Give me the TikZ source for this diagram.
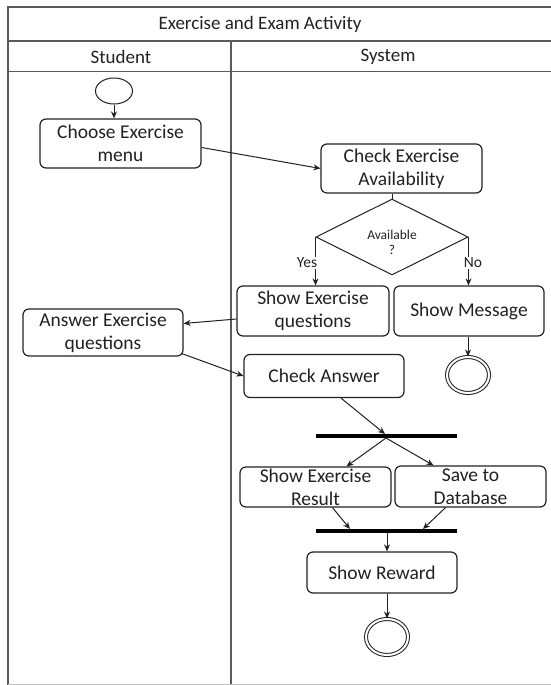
\documentclass[tikz,border=0pt]{standalone}
\usepackage{fontspec}
\setmainfont{Carlito}
\usetikzlibrary{shapes.geometric,arrows.meta,calc}
\definecolor{ink}{HTML}{222222}
\definecolor{framec}{HTML}{5A5A5A}
\tikzset{
  box/.style={draw=ink, line width=1.2pt, rounded corners=6pt, inner sep=0pt, align=center,
    text=ink, font=\fontsize{19.5}{23}\selectfont},
  arr/.style={draw=ink, line width=1pt, -{Stealth[length=7pt,width=6pt]}},
  plain/.style={draw=ink, line width=1pt},
  bar/.style={draw=black, line width=4pt},
  frameline/.style={draw=framec, line width=1.6pt},
  lbl/.style={text=ink, font=\fontsize{15.5}{17}\selectfont, inner sep=1pt},
  hdr/.style={text=ink, font=\fontsize{19}{22}\selectfont, inner sep=0pt},
  endc/.style={draw=ink, line width=1pt, ellipse, minimum width=#1, inner sep=0pt},
}
\begin{document}
\begin{tikzpicture}[x=1pt,y=-1pt]
\useasboundingbox (0,0) rectangle (551,685);
\fill[white] (0,0) rectangle (551,685);
% frame
\draw[frameline] (551,7) -- (8,7) -- (8,685);
\draw[frameline] (8,41) -- (551,41);
\draw[frameline] (8,71.5) -- (551,71.5);
\draw[frameline] (231,41) -- (231,685);
\draw[draw=gray!50, line width=1pt] (8,684) -- (551,684);
\node[hdr] (title) at (260,24) {Exercise and Exam Activity};
\node[hdr] (student) at (121,57) {Student};
\node[hdr] (system) at (388,57) {System};
% student lane
\node[draw=ink, line width=1pt, ellipse, minimum width=37pt, minimum height=26pt, inner sep=0pt] (start) at (114,91) {};
\node[box, minimum width=161pt, minimum height=49pt] (choose) at (120.5,143.5) {Choose Exercise\\menu};
\node[box, minimum width=160pt, minimum height=47pt] (answer) at (103,332.5) {Answer Exercise\\questions};
% system lane
\node[box, minimum width=161pt, minimum height=49pt] (check) at (401.5,168.5) {Check Exercise\\Availability};
\node[draw=ink, line width=1pt, diamond, minimum width=152pt, minimum height=76pt, inner sep=0pt] (dia) at (392,237) {};
\node[text=ink, font=\fontsize{13.5}{15}\selectfont, align=center, inner sep=0pt] (diatxt) at (392,242) {Available\\?};
\node[box, minimum width=152pt, minimum height=50pt] (showex) at (313,311) {Show Exercise\\questions};
\node[box, minimum width=150pt, minimum height=50pt] (showmsg) at (469,311) {Show Message};
\node[box, minimum width=160pt, minimum height=43pt] (checkans) at (324,376) {Check Answer};
\node[box, minimum width=151pt, minimum height=40pt] (result) at (315.5,487) {Show Exercise\\Result};
\node[box, minimum width=151pt, minimum height=41pt] (save) at (470.5,486.5) {Save to\\Database};
\node[box, minimum width=150pt, minimum height=41pt] (reward) at (382,572.5) {Show Reward};
% forks
\coordinate (f1l) at (316,436); \coordinate (f1r) at (457,436);
\coordinate (f2l) at (316,531); \coordinate (f2r) at (457,531);
\draw[bar] (f1l) -- (f1r);
\draw[bar] (f2l) -- (f2r);
\coordinate (f1in) at (385,434);
\coordinate (f1out) at (386,438);
\coordinate (f2inA) at (350,529);
\coordinate (f2inB) at (423,529);
\coordinate (f2out) at (387,533);
% end nodes
\node[endc=42pt, minimum height=36pt, double, double distance=2pt] (end1) at (468,375) {};
\node[endc=42pt, minimum height=36pt, double, double distance=2pt] (end2) at (387,637) {};
% connectors
\draw[arr] (start.south) -- (start.south |- choose.north);
\draw[arr] ($(choose.east)+(0,4)$) -- (check.west);
\draw[plain] (check.south -| dia.north) -- (dia.north);
\draw[arr] (dia.west) -- (dia.west |- showex.north);
\draw[arr] (dia.east) -- (dia.east |- showmsg.north);
\node[lbl, fill=white] (yes) at (307,263) {Yes};
\node[lbl, fill=white] (no) at (473,263) {No};
\draw[arr] ($(showex.west)+(0,8)$) -- ($(answer.east)+(0,-9)$);
\draw[arr] ($(answer.east)+(-2,21)$) -- (checkans.west);
\draw[arr] (showmsg.south -| end1.north) -- (end1.north);
\draw[arr] ($(checkans.south)+(17,0)$) -- (f1in);
\draw[arr] (f1out) -- ($(result.north)+(31,0)$);
\draw[arr] (f1out) -- ($(save.north)+(-37,0)$);
\draw[arr] ($(result.south)+(17,0)$) -- (f2inA);
\draw[arr] ($(save.south)+(-25,0)$) -- (f2inB);
\draw[arr] (f2out) -- (f2out |- reward.north);
\draw[arr] (reward.south -| end2.north) -- (end2.north);
\end{tikzpicture}
\end{document}
